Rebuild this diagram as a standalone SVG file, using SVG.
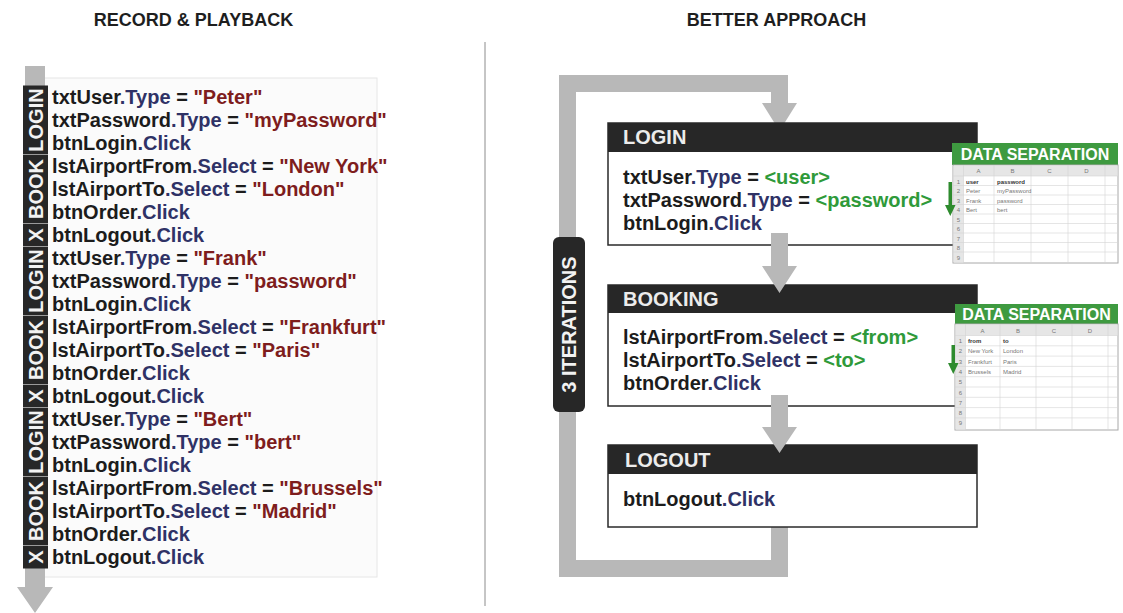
<svg xmlns="http://www.w3.org/2000/svg" width="1123" height="613" viewBox="0 0 1123 613">
<defs>
<style>
.t{font-family:"Liberation Sans",Arial,sans-serif;font-weight:bold}
.code{font-size:20px;fill:#1c1c1c}
.m{fill:#2f3266}
.v{fill:#7e1d1d}
.g{fill:#2f9a3a}
.lbl{font-size:20px;fill:#f2f2f2}
.hd{font-size:18px;fill:#1e1e1e}
.bh{font-size:20px;fill:#ececec}
.arrow{fill:#b8b8b8}
.dark{fill:#272727}
.sep{stroke:#9a9a9a;stroke-width:1}
.body{fill:#ffffff;stroke:#2a2a2a;stroke-width:1.5}
.ssbox{fill:#ffffff;stroke:#a8a8a8;stroke-width:1}
.sshead{fill:#e6e6e6}
.grid{stroke:#d4d4d4;stroke-width:0.6}
.ss{font-family:"Liberation Sans",Arial,sans-serif;font-size:6px;fill:#777}
.ssb{font-family:"Liberation Sans",Arial,sans-serif;font-size:6px;font-weight:bold;fill:#333}
.green{fill:#3e9a40}
.gtxt{font-size:16px;fill:#ffffff}
.garrow{fill:#2e8b2e}
</style>
</defs>
<rect width="1123" height="613" fill="#ffffff"/>

<!-- headings -->
<text class="t hd" x="193.5" y="26" text-anchor="middle">RECORD &amp; PLAYBACK</text>
<text class="t hd" x="776.5" y="26" text-anchor="middle">BETTER APPROACH</text>
<line x1="485" y1="42" x2="485" y2="606" stroke="#8c8c8c" stroke-width="1"/>

<!-- LEFT: record & playback -->
<g id="playback">
<rect x="40" y="78" width="337" height="499" fill="#fbfbfb" stroke="#e6e6e6" stroke-width="1"/>
<path class="arrow" d="M25,66 H45 V587 H53 L35,613 L17,587 H25 Z"/>
<rect class="dark" x="23" y="85.5" width="25" height="483"/>
<g>
<line class="sep" x1="23" y1="154.5" x2="48" y2="154.5"/>
<line class="sep" x1="23" y1="223.5" x2="48" y2="223.5"/>
<line class="sep" x1="23" y1="246.5" x2="48" y2="246.5"/>
<line class="sep" x1="23" y1="315.5" x2="48" y2="315.5"/>
<line class="sep" x1="23" y1="384.5" x2="48" y2="384.5"/>
<line class="sep" x1="23" y1="407.5" x2="48" y2="407.5"/>
<line class="sep" x1="23" y1="476.5" x2="48" y2="476.5"/>
<line class="sep" x1="23" y1="545.5" x2="48" y2="545.5"/>
</g>
<g class="t lbl" text-anchor="middle">
<text x="35.5" y="127" transform="rotate(-90 35.5 120)">LOGIN</text>
<text x="35.5" y="196" transform="rotate(-90 35.5 189)">BOOK</text>
<text x="35.5" y="242" transform="rotate(-90 35.5 235)">X</text>
<text x="35.5" y="288" transform="rotate(-90 35.5 281)">LOGIN</text>
<text x="35.5" y="357" transform="rotate(-90 35.5 350)">BOOK</text>
<text x="35.5" y="403" transform="rotate(-90 35.5 396)">X</text>
<text x="35.5" y="449" transform="rotate(-90 35.5 442)">LOGIN</text>
<text x="35.5" y="518" transform="rotate(-90 35.5 511)">BOOK</text>
<text x="35.5" y="564" transform="rotate(-90 35.5 557)">X</text>
</g>
<g class="t code">
<text x="52" y="104">txtUser<tspan class="m">.Type</tspan> = <tspan class="v">"Peter"</tspan></text>
<text x="52" y="127">txtPassword<tspan class="m">.Type</tspan> = <tspan class="v">"myPassword"</tspan></text>
<text x="52" y="150">btnLogin<tspan class="m">.Click</tspan></text>
<text x="52" y="173">lstAirportFrom<tspan class="m">.Select</tspan> = <tspan class="v">"New York"</tspan></text>
<text x="52" y="196">lstAirportTo<tspan class="m">.Select</tspan> = <tspan class="v">"London"</tspan></text>
<text x="52" y="219">btnOrder<tspan class="m">.Click</tspan></text>
<text x="52" y="242">btnLogout<tspan class="m">.Click</tspan></text>
<text x="52" y="265">txtUser<tspan class="m">.Type</tspan> = <tspan class="v">"Frank"</tspan></text>
<text x="52" y="288">txtPassword<tspan class="m">.Type</tspan> = <tspan class="v">"password"</tspan></text>
<text x="52" y="311">btnLogin<tspan class="m">.Click</tspan></text>
<text x="52" y="334">lstAirportFrom<tspan class="m">.Select</tspan> = <tspan class="v">"Frankfurt"</tspan></text>
<text x="52" y="357">lstAirportTo<tspan class="m">.Select</tspan> = <tspan class="v">"Paris"</tspan></text>
<text x="52" y="380">btnOrder<tspan class="m">.Click</tspan></text>
<text x="52" y="403">btnLogout<tspan class="m">.Click</tspan></text>
<text x="52" y="426">txtUser<tspan class="m">.Type</tspan> = <tspan class="v">"Bert"</tspan></text>
<text x="52" y="449">txtPassword<tspan class="m">.Type</tspan> = <tspan class="v">"bert"</tspan></text>
<text x="52" y="472">btnLogin<tspan class="m">.Click</tspan></text>
<text x="52" y="495">lstAirportFrom<tspan class="m">.Select</tspan> = <tspan class="v">"Brussels"</tspan></text>
<text x="52" y="518">lstAirportTo<tspan class="m">.Select</tspan> = <tspan class="v">"Madrid"</tspan></text>
<text x="52" y="541">btnOrder<tspan class="m">.Click</tspan></text>
<text x="52" y="564">btnLogout<tspan class="m">.Click</tspan></text>
</g>
</g>

<!-- RIGHT: connectors -->
<g id="connectors">
<path class="arrow" d="M771,516 H788 V577 H559 V75 H788 V103 H797 L779.5,131 L762,103 H771 V92 H576 V560 H771 Z"/>
</g>

<g id="iterations">
<rect class="dark" x="553" y="237" width="32" height="175" rx="6"/>
<text class="t lbl" x="569" y="331.5" text-anchor="middle" transform="rotate(-90 569 324.5)">3 ITERATIONS</text>
</g>

<g id="login">
<rect class="body" x="608" y="123" width="369" height="122"/>
<rect class="dark" x="608" y="123" width="369" height="29"/>
<text class="t bh" x="623" y="144">LOGIN</text>
<g class="t code">
<text x="623" y="184">txtUser<tspan class="m">.Type</tspan> = <tspan class="g">&lt;user&gt;</tspan></text>
<text x="623" y="207">txtPassword<tspan class="m">.Type</tspan> = <tspan class="g">&lt;password&gt;</tspan></text>
<text x="623" y="230">btnLogin<tspan class="m">.Click</tspan></text>
</g>
</g>

<g id="booking">
<rect class="body" x="608" y="285" width="369" height="121"/>
<rect class="dark" x="608" y="285" width="369" height="28"/>
<text class="t bh" x="623" y="306">BOOKING</text>
<g class="t code">
<text x="623" y="344">lstAirportFrom<tspan class="m">.Select</tspan> = <tspan class="g">&lt;from&gt;</tspan></text>
<text x="623" y="367">lstAirportTo<tspan class="m">.Select</tspan> = <tspan class="g">&lt;to&gt;</tspan></text>
<text x="623" y="390">btnOrder<tspan class="m">.Click</tspan></text>
</g>
</g>

<g id="logout">
<rect class="body" x="608" y="445" width="369" height="82"/>
<rect class="dark" x="608" y="445" width="369" height="29"/>
<text class="t bh" x="625" y="467">LOGOUT</text>
<text class="t code" x="623" y="506">btnLogout<tspan class="m">.Click</tspan></text>
</g>

<g id="flow-arrows">
<path class="arrow" d="M771,233 H788 V266 H797 L779.5,293 L762,266 H771 Z"/>
<path class="arrow" d="M771,395 H788 V427 H797 L779.5,453 L762,427 H771 Z"/>
</g>

<g id="data-separation-1">
<rect class="green" x="952" y="143" width="166" height="22"/>
<text class="t gtxt" x="1035" y="160" text-anchor="middle">DATA SEPARATION</text>
<rect class="ssbox" x="953" y="165" width="165" height="98"/>
<rect class="sshead" x="953.5" y="165.5" width="164" height="10.5"/>
<rect class="sshead" x="953.5" y="176" width="10" height="86.5"/>
<g class="grid">
<line x1="963.5" y1="165" x2="963.5" y2="263"/>
<line x1="994" y1="165" x2="994" y2="263"/>
<line x1="1031" y1="165" x2="1031" y2="263"/>
<line x1="1068" y1="165" x2="1068" y2="263"/>
<line x1="1105" y1="165" x2="1105" y2="263"/>
<line x1="953" y1="176" x2="1118" y2="176"/>
<line x1="953" y1="185.5" x2="1118" y2="185.5"/>
<line x1="953" y1="195" x2="1118" y2="195"/>
<line x1="953" y1="204.5" x2="1118" y2="204.5"/>
<line x1="953" y1="214" x2="1118" y2="214"/>
<line x1="953" y1="223.5" x2="1118" y2="223.5"/>
<line x1="953" y1="233" x2="1118" y2="233"/>
<line x1="953" y1="242.5" x2="1118" y2="242.5"/>
<line x1="953" y1="252" x2="1118" y2="252"/>
</g>
<g class="ss" text-anchor="middle">
<text x="978.5" y="173">A</text><text x="1012.5" y="173">B</text><text x="1049.5" y="173">C</text><text x="1086.5" y="173">D</text>
<text x="958.5" y="183.5">1</text><text x="958.5" y="193">2</text><text x="958.5" y="202.5">3</text><text x="958.5" y="212">4</text><text x="958.5" y="221.5">5</text><text x="958.5" y="231">6</text><text x="958.5" y="240.5">7</text><text x="958.5" y="250">8</text><text x="958.5" y="259.5">9</text>
</g>
<text class="ssb" x="966" y="183.5">user</text><text class="ssb" x="997" y="183.5">password</text>
<text class="ss" x="966" y="193">Peter</text><text class="ss" x="997" y="193">myPassword</text>
<text class="ss" x="966" y="202.5">Frank</text><text class="ss" x="997" y="202.5">password</text>
<text class="ss" x="966" y="212">Bert</text><text class="ss" x="997" y="212">bert</text>
<path class="garrow" d="M948.5,182 H952 V205 H955.5 L950.25,216 L945,205 H948.5 Z"/>
</g>

<g id="data-separation-2">
<rect class="green" x="955" y="304" width="163" height="20"/>
<text class="t gtxt" x="1036.5" y="320" text-anchor="middle">DATA SEPARATION</text>
<rect class="ssbox" x="955" y="324" width="163" height="106"/>
<rect class="sshead" x="955.5" y="324.5" width="162" height="11"/>
<rect class="sshead" x="955.5" y="335.5" width="10" height="94"/>
<g class="grid">
<line x1="965.5" y1="324" x2="965.5" y2="430"/>
<line x1="1000" y1="324" x2="1000" y2="430"/>
<line x1="1036" y1="324" x2="1036" y2="430"/>
<line x1="1072" y1="324" x2="1072" y2="430"/>
<line x1="1108" y1="324" x2="1108" y2="430"/>
<line x1="955" y1="335.5" x2="1118" y2="335.5"/>
<line x1="955" y1="345.8" x2="1118" y2="345.8"/>
<line x1="955" y1="356.1" x2="1118" y2="356.1"/>
<line x1="955" y1="366.4" x2="1118" y2="366.4"/>
<line x1="955" y1="376.7" x2="1118" y2="376.7"/>
<line x1="955" y1="387" x2="1118" y2="387"/>
<line x1="955" y1="397.3" x2="1118" y2="397.3"/>
<line x1="955" y1="407.6" x2="1118" y2="407.6"/>
<line x1="955" y1="417.9" x2="1118" y2="417.9"/>
</g>
<g class="ss" text-anchor="middle">
<text x="982.5" y="332.5">A</text><text x="1018" y="332.5">B</text><text x="1054" y="332.5">C</text><text x="1090" y="332.5">D</text>
<text x="960.5" y="343">1</text><text x="960.5" y="353.3">2</text><text x="960.5" y="363.6">3</text><text x="960.5" y="373.9">4</text><text x="960.5" y="384.2">5</text><text x="960.5" y="394.5">6</text><text x="960.5" y="404.8">7</text><text x="960.5" y="415.1">8</text><text x="960.5" y="425.4">9</text>
</g>
<text class="ssb" x="968" y="343">from</text><text class="ssb" x="1003" y="343">to</text>
<text class="ss" x="968" y="353.3">New York</text><text class="ss" x="1003" y="353.3">London</text>
<text class="ss" x="968" y="363.6">Frankfurt</text><text class="ss" x="1003" y="363.6">Paris</text>
<text class="ss" x="968" y="373.9">Brussels</text><text class="ss" x="1003" y="373.9">Madrid</text>
<path class="garrow" d="M951.5,345 H955 V363 H958.5 L953.25,374 L948,363 H951.5 Z"/>
</g>
</svg>
